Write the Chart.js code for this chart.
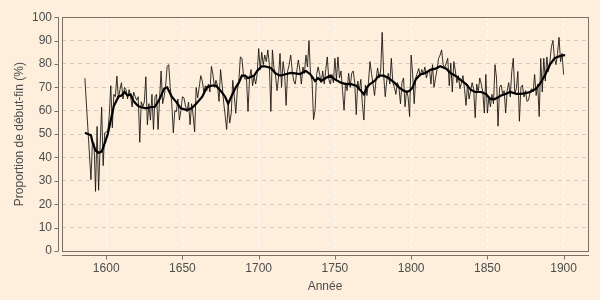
<!DOCTYPE html>
<html lang="fr">
<head>
<meta charset="utf-8">
<script src="https://cdn.jsdelivr.net/npm/chart.js@4.4.1/dist/chart.umd.min.js"></script>
<style>
  html, body { margin: 0; padding: 0; background: #fdefdc; }
  #graphe { display: block; }
</style>
</head>
<body>
<canvas id="graphe" width="600" height="300"></canvas>
<script>
// Proportion annuelle de début-fin (%), une valeur par année à partir de 1586
const anneeDebut = 1586;
const debutFin = [
  73.9, null, null, null,
  30.5, 47, 46, 25.5, 53.3, 26, 45, 61.5, 36.5, 50.5,
  51, 50.6, 58, 70.7, 52.7, 67, 66, 74.8, 65, 69,
  72, 65, 70, 69, 65, 69, 66, 61.6, 68, 66,
  64.5, 66, 46.5, 63.8, 61.7, 63.8, 74.5, 54, 63, 56,
  67, 52, 66, 67, 52, 65, 77, 63, 66, 71,
  79, 79.7, 70, 63, 50.6, 60, 59.6, 65, 56, 60,
  66, 65.5, 62, 59.6, 63.7, 54, 63, 58, 51, 70,
  65.5, 70, 75, 72.8, 68, 70.7, 68.6, 71.4, 68, 79,
  75.5, 70, 73, 70.7, 64, 77.6, 71.4, 63.7, 58, 52,
  63, 54.7, 58.9, 73, 66, 58.9, 68.6, 73, 83, 82.4,
  75.5, 73.4, 74, 59.7, 74, 77.6, 70.7, 74.8, 71.4, 75.5,
  86.6, 77.6, 85, 79.7, 83.8, 81, 86, 79.7, 59.7, 86,
  78.3, 75.5, 68.6, 74, 84.5, 70, 81, 76, 62.3, 77,
  79.7, 83.8, 77, 72.7, 71.4, 77, 81.7, 77.6, 71.4, 78.7,
  76, 83.8, 78.7, 90, 75.5, 72.7, 56.2, 60.3, 75.5, 78.7,
  75.5, 72, 77, 71.4, 77.6, 83, 73.4, 71.4, 75.5, 72,
  82.4, 73.4, 83, 74, 77, 68.6, 60.3, 72, 68.6, 76,
  70, 76, 77, 72, 58.3, 72.7, 68.6, 73.4, 63, 56,
  71, 66.5, 72, 81, 76, 71.4, 66.5, 73.4, 78.3, 74,
  77, 93.5, 75, 66, 72.7, 76, 71.4, 82.4, 72, 70,
  67, 72, 70, 63, 72, 74, 61.7, 68.6, 66, 57.5,
  83.8, 75.5, 63, 74, 76, 78, 74.8, 77.6, 75.5, 78.7,
  74, 76.9, 77.6, 71.4, 79.7, 70, 74, 77.6, 82.4, 83.8,
  86, 79.7, 78.3, 80.4, 82.4, 70.7, 80.4, 68, 81, 77,
  72, 75, 69.4, 72, 75, 69.4, 62.3, 71.4, 65, 68.6,
  72, 69.4, 57, 71.4, 68, 74, 71.4, 68, 59, 75.5,
  59, 66, 61.7, 67, 63, 79.7, 74, 53.4, 70, 71,
  67.2, 68.6, 59, 68.6, 72, 65.9, 76.8, 82.4, 67.2, 69.4,
  76.8, 55.5, 70, 71, 65.9, 68.6, 64, 64.5, 68, 69.4,
  68, 75.5, 66.5, 71.4, 57.5, 82.4, 68, 82.4, 72.7, 83,
  76.8, 80.9, 87.4, 90, 82.4, 79.7, 84.5, 91.4, 80.9, 84.5,
  75.5
];

// courbe lissée
const anneesTendance = [1586, 1588, 1590, 1591, 1593, 1595, 1597, 1599, 1601, 1603, 1605, 1608, 1610, 1612, 1614, 1616, 1618, 1621, 1623, 1626, 1629, 1632, 1635, 1638, 1640, 1641, 1643, 1646, 1649, 1653, 1656, 1659, 1663, 1666, 1669, 1672, 1675, 1678, 1680, 1682, 1685, 1687, 1689, 1691, 1693, 1697, 1699, 1702, 1704, 1708, 1711, 1714, 1717, 1721, 1724, 1727, 1731, 1734, 1737, 1739, 1741, 1744, 1747, 1750, 1754, 1757, 1760, 1764, 1767, 1769, 1771, 1773, 1776, 1779, 1782, 1785, 1789, 1792, 1795, 1797, 1799, 1801, 1803, 1806, 1809, 1813, 1816, 1819, 1823, 1826, 1829, 1832, 1836, 1839, 1842, 1846, 1849, 1852, 1855, 1859, 1862, 1865, 1869, 1872, 1875, 1878, 1882, 1885, 1888, 1891, 1894, 1896, 1898, 1901];
const tendance = [50.6, 50, 49.5, 46.5, 43, 42, 42.5, 46, 50, 56, 62, 66, 66.5, 68, 66.5, 67, 64, 62, 61.5, 61, 61.5, 61.7, 65, 69.5, 70, 68.6, 66, 63.7, 61, 60.3, 61, 63, 66, 70, 70.7, 70.7, 68.6, 66, 63, 66, 70, 72, 75, 75, 74, 75, 77, 79, 79, 78.3, 76, 75, 75.5, 76.2, 76, 75.7, 77, 75.5, 72.7, 74, 72.7, 74, 75, 73.4, 72, 71.4, 71.5, 70.7, 68.6, 67, 70, 71.4, 72.7, 75, 75, 74, 72, 70, 68.6, 68, 68.5, 70, 73.4, 75.5, 76, 77.6, 78, 79, 78, 76, 75, 73.4, 71.4, 69, 68, 68, 67.2, 65, 65, 66.5, 67.2, 68, 67.2, 67.2, 67.5, 68, 69.4, 72, 75.5, 79.7, 82.4, 83, 83.5, 83.8];

const ticksAnnees = [1600, 1650, 1700, 1750, 1800, 1850, 1900];
const ticksProportion = [0, 10, 20, 30, 40, 50, 60, 70, 80, 90, 100];

const pointsAnnuels = debutFin.map((v, i) => ({ x: anneeDebut + i, y: v }));
const pointsTendance = anneesTendance.map((a, i) => ({ x: a, y: tendance[i] }));

const couleurTexte = '#4d4d4d';
const couleurCadre = '#7a7066';

// cadre du graphique et axes décalés façon R
const cadre = {
  id: 'cadre',
  afterDraw(chart) {
    const { ctx, chartArea: a, scales } = chart;
    ctx.save();
    ctx.strokeStyle = couleurCadre;
    ctx.lineWidth = 1;
    ctx.strokeRect(Math.round(a.left) + 0.5, Math.round(a.top) + 0.5,
      Math.round(a.right - a.left), Math.round(a.bottom - a.top));

    // axe y
    const ax = Math.round(a.left) - 3.5;
    const y0 = scales.y.getPixelForValue(0);
    const y1 = scales.y.getPixelForValue(100);
    ctx.beginPath();
    ctx.moveTo(ax, y0);
    ctx.lineTo(ax, y1);
    ticksProportion.forEach(v => {
      const py = Math.round(scales.y.getPixelForValue(v)) + 0.5;
      ctx.moveTo(ax, py);
      ctx.lineTo(ax - 4, py);
    });
    // axe x
    const ay = Math.round(a.bottom) + 4.5;
    ctx.moveTo(a.left, ay);
    ctx.lineTo(a.right + 1, ay);
    ticksAnnees.forEach(v => {
      const px = Math.round(scales.x.getPixelForValue(v)) + 0.5;
      ctx.moveTo(px, ay);
      ctx.lineTo(px, ay + 4);
    });
    ctx.stroke();
    ctx.restore();
  }
};

const police = { family: '"Liberation Sans", Arial, sans-serif', size: 12 };

new Chart(document.getElementById('graphe').getContext('2d'), {
  type: 'line',
  data: {
    datasets: [
      {
        label: 'Tendance',
        data: pointsTendance,
        borderColor: '#000000',
        borderWidth: 2.2,
        pointRadius: 0,
        tension: 0,
        fill: false
      },
      {
        label: 'Proportion de début-fin',
        data: pointsAnnuels,
        borderColor: 'rgba(20, 15, 10, 0.85)',
        borderWidth: 1,
        pointRadius: 0,
        tension: 0,
        spanGaps: true,
        fill: false
      }
    ]
  },
  options: {
    responsive: false,
    animation: false,
    devicePixelRatio: 1,
    layout: { padding: { top: 11, right: 12, left: 0, bottom: 0 } },
    plugins: {
      legend: { display: false },
      tooltip: { enabled: false }
    },
    scales: {
      x: {
        type: 'linear',
        min: 1571,
        max: 1916,
        afterBuildTicks: scale => { scale.ticks = ticksAnnees.map(v => ({ value: v })); },
        afterFit: scale => { scale.height = 49; },
        border: { display: false, dash: [3, 3] },
        grid: {
          color: 'rgba(255, 255, 255, 0.95)',
          lineWidth: 1,
          drawTicks: false
        },
        ticks: {
          color: couleurTexte,
          font: police,
          padding: 10,
          maxRotation: 0,
          callback: v => String(v)
        },
        title: {
          display: true,
          text: 'Année',
          color: couleurTexte,
          font: police,
          padding: { top: 0, bottom: 6 }
        }
      },
      y: {
        type: 'linear',
        min: 0,
        max: 100,
        afterBuildTicks: scale => { scale.ticks = ticksProportion.map(v => ({ value: v })); },
        afterFit: scale => { scale.width = 62; },
        border: { display: false, dash: [4, 4] },
        grid: {
          color: 'rgba(200, 195, 188, 0.8)',
          lineWidth: 1,
          drawTicks: false
        },
        ticks: {
          color: couleurTexte,
          font: police,
          padding: 10
        },
        title: {
          display: true,
          text: 'Proportion de début-fin (%)',
          color: couleurTexte,
          font: police,
          padding: { top: 12, bottom: 0 }
        }
      }
    }
  },
  plugins: [cadre]
});
</script>
</body>
</html>
